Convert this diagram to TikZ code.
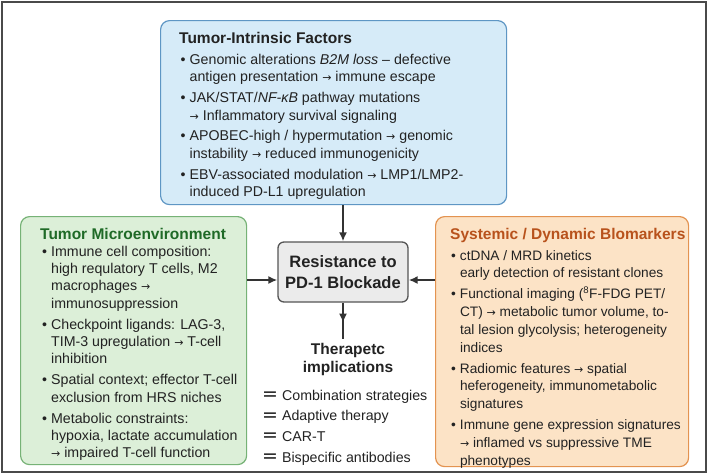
\documentclass[tikz,border=0pt]{standalone}
\usepackage{fontspec}
\setmainfont{Liberation Sans}
\newfontfamily\glyphfont{DejaVu Sans}
\usetikzlibrary{positioning,arrows.meta,decorations.markings}

\definecolor{frameGray}{HTML}{4A4A4A}
\definecolor{inkGray}{HTML}{222222}
\definecolor{arrowGray}{HTML}{333333}
\definecolor{tifFill}{HTML}{D6EBF8}
\definecolor{tifLine}{HTML}{5E96C4}
\definecolor{tmeFill}{HTML}{DCEFD8}
\definecolor{tmeLine}{HTML}{76B276}
\definecolor{tmeHead}{HTML}{1F6A27}
\definecolor{sysFill}{HTML}{FCE3C6}
\definecolor{sysLine}{HTML}{E39350}
\definecolor{sysHead}{HTML}{B8521C}
\definecolor{resFill}{HTML}{EBEBEB}
\definecolor{resLine}{HTML}{555555}

% small text arrow and the list mark
\newcommand{\rarr}{{\glyphfont\fontsize{11}{11}\selectfont →}}
\newcommand{\eqmark}{\raisebox{-0.5pt}{\glyphfont\fontsize{19}{19}\selectfont =}}

\tikzset{
  panel/.style={draw, rounded corners=9pt, line width=1.2pt, anchor=north west, inner sep=0pt},
  head/.style={anchor=base west, inner sep=0pt, font=\fontsize{15.5}{18}\selectfont\bfseries},
  body/.style={anchor=base west, inner sep=0pt, text=inkGray, font=\fontsize{14.2}{17.7}\selectfont},
  flow/.style={line width=1.8pt, draw=arrowGray, -{Latex[length=9pt,width=8pt]}},
}

\begin{document}
\begin{tikzpicture}[x=1pt,y=-1pt]
\useasboundingbox (0,0) rectangle (709,475);
\draw[frameGray,line width=1.5pt,fill=white] (2,2) rectangle (706,472);

% the three factor panels
\node[panel,draw=tifLine,fill=tifFill,minimum width=346pt,minimum height=184pt] (tif) at (160,20) {};
\node[panel,draw=tmeLine,fill=tmeFill,minimum width=226pt,minimum height=248pt] (tme) at (20,216) {};
\node[panel,draw=sysLine,fill=sysFill,minimum width=253pt,minimum height=250pt] (sys) at (435,216) {};

% tumor-intrinsic factors
\node[head,text=inkGray] (tifHead) at (179,43.5) {Tumor-Intrinsic Factors};
\node[body] (tifBody) at (180.5,64) {\begin{tabular}[t]{@{}l@{\hspace{4pt}}l@{}}
\textbullet & Genomic alterations \textit{B2M loss} – defective\\
 & antigen presentation \rarr{} immune escape\\[3pt]
\textbullet & JAK/STAT/\textit{NF-κB} pathway mutations\\
 & \rarr{} Inflammatory survival signaling\\[3pt]
\textbullet & APOBEC-high / hypermutation \rarr{} genomic\\
 & instability \rarr{} reduced immunogenicity\\[3pt]
\textbullet & EBV-associated modulation \rarr{} LMP1/LMP2-\\
 & induced PD-L1 upregulation
\end{tabular}};

% tumor microenvironment
\node[head,text=tmeHead] (tmeHead) at (40,239.5) {Tumor Microenvironment};
\node[body,font=\fontsize{14.2}{17.4}\selectfont] (tmeBody) at (42,256) {\begin{tabular}[t]{@{}l@{\hspace{4pt}}l@{}}
\textbullet & Immune cell composition:\\
 & high requlatory T cells, M2\\
 & macrophages \rarr\\
 & immunosuppression\\[3.5pt]
\textbullet & Checkpoint ligands: LAG-3,\\
 & TIM-3 upregulation \rarr{} T-cell\\
 & inhibition\\[3.5pt]
\textbullet & Spatial context; effector T-cell\\
 & exclusion from HRS niches\\[3.5pt]
\textbullet & Metabolic constraints:\\
 & hypoxia, lactate accumulation\\
 & \rarr{} impaired T-cell function
\end{tabular}};

% systemic / dynamic biomarkers
\node[head,text=sysHead] (sysHead) at (450,239.5) {Systemic / Dynamic Blomarkers};
\node[body,font=\fontsize{13.7}{17.7}\selectfont] (sysBody) at (451,260) {\begin{tabular}[t]{@{}l@{\hspace{4pt}}l@{}}
\textbullet & ctDNA / MRD kinetics\\
 & early detection of resistant clones\\[3.5pt]
\textbullet & Functional imaging (\textsuperscript{8}F-FDG PET/\\
 & CT) \rarr{} metabolic tumor volume, to-\\
 & tal lesion glycolysis; heterogeneity\\
 & indices\\[3.5pt]
\textbullet & Radiomic features \rarr{} spatial\\
 & heferogeneity, immunometabolic\\
 & signatures\\[3.5pt]
\textbullet & Immune gene expression signatures\\
 & \rarr{} inflamed vs suppressive TME\\
 & phenotypes
\end{tabular}};

% central node and its outcome
\node[draw=resLine,fill=resFill,line width=1.3pt,rounded corners=6pt,minimum width=130pt,minimum height=60pt,
      align=center,text=inkGray,font=\fontsize{16.5}{21}\selectfont\bfseries] (res) at (343,272) {Resistance to\\PD-1 Blockade};
\node[align=center,inner sep=4pt,text=inkGray,font=\fontsize{15.5}{18}\selectfont\bfseries] (ther) at (348,359) {Therapetc\\implications};
\node[body] (opts) at (262,400) {\begin{tabular}[t]{@{}l@{\hspace{4pt}}l@{}}
\eqmark & Combination strategies\\[3pt]
\eqmark & Adaptive therapy\\[3pt]
\eqmark & CAR-T\\[3pt]
\eqmark & Bispecific antibodies
\end{tabular}};

% connectors
\draw[flow] (tif.south -| res.north) -- (res.north);
\draw[flow] ([yshift=-8pt]res.west -| tme.east) -- ([yshift=-8pt]res.west);
\draw[flow] ([yshift=-8pt]res.east -| sys.west) -- ([yshift=-8pt]res.east);
\coordinate (mid) at ([yshift=-20pt]res.south);
\draw[flow] (res.south) -- (mid);
\draw[line width=1.8pt,arrowGray] ([yshift=3pt]mid) -- (res.south |- ther.north);
\end{tikzpicture}
\end{document}
